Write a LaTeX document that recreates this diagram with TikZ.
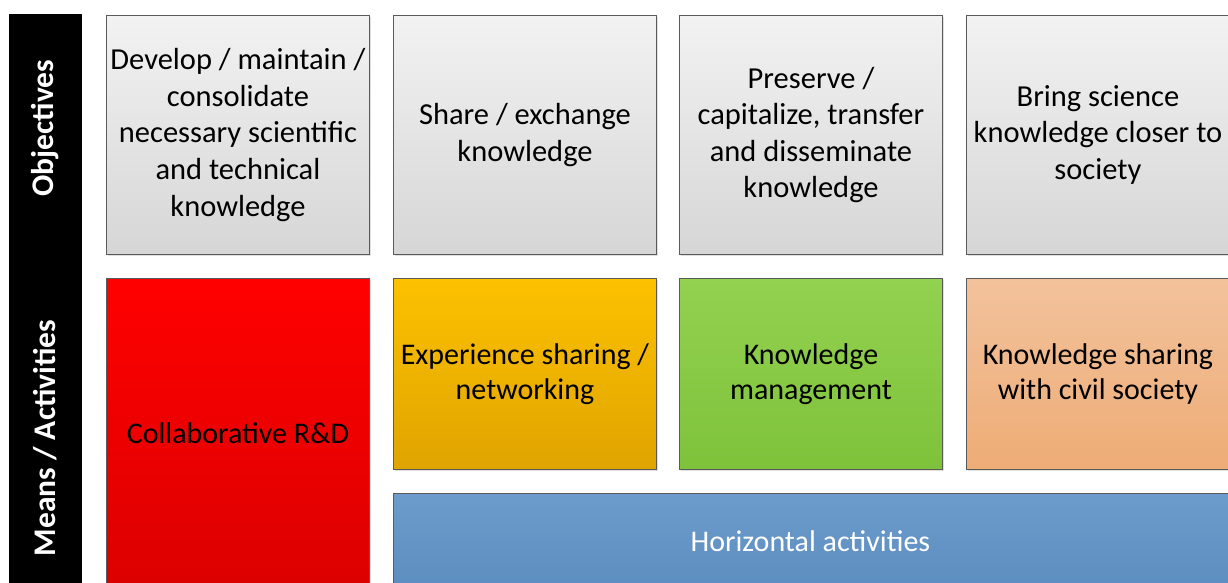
\documentclass[tikz,border=0pt]{standalone}
\usepackage{fontspec}
\setmainfont{Carlito}
\usetikzlibrary{shadows}
\definecolor{edge}{HTML}{5A5A5A}
\definecolor{grytop}{HTML}{F2F2F2}
\definecolor{grybot}{HTML}{D6D6D6}
\definecolor{redtop}{HTML}{FF0000}
\definecolor{redbot}{HTML}{DC0000}
\definecolor{orgtop}{HTML}{FDC100}
\definecolor{orgbot}{HTML}{DFA400}
\definecolor{grntop}{HTML}{93D150}
\definecolor{grnbot}{HTML}{7EC23A}
\definecolor{tantop}{HTML}{F2C29C}
\definecolor{tanbot}{HTML}{EEAC76}
\definecolor{blutop}{HTML}{6C9CCB}
\definecolor{blubot}{HTML}{5A8BBE}
\tikzstyle{bx}=[draw=edge, line width=0.9pt, inner sep=0pt, align=center, anchor=north west,
  font=\fontsize{30.5}{36.6}\selectfont,
  drop shadow={opacity=0.25, shadow xshift=1.5pt, shadow yshift=-1.5pt}]
\tikzstyle{obj}=[bx, minimum width=263, minimum height=239, top color=grytop, bottom color=grybot]
\tikzstyle{act}=[bx, minimum width=263, minimum height=191, font=\fontsize{30}{35.5}\selectfont]
\tikzstyle{lbl}=[rotate=90, text=white, font=\fontsize{31.5}{36}\selectfont\bfseries]

\begin{document}
\begin{tikzpicture} [x=1pt, y=-1pt]
%%position
\useasboundingbox (0,0) rectangle (1228,583);
%%side bar
\node[fill=black, inner sep=0pt, anchor=north west, minimum width=73, minimum height=600] (bar) at (9,14) {};
\node[lbl] (objl) at (45.5,128) {Objectives};
\node[lbl] (meanl) at (45.5,438) {Means / Activities};
%%objectives
\node[obj] (dev) at (106,15) {Develop / maintain /\\consolidate\\necessary scientific\\and technical\\knowledge};
\node[obj] (share) at (393,15) {Share / exchange\\knowledge};
\node[obj] (pres) at (679,15) {Preserve /\\capitalize, transfer\\and disseminate\\knowledge};
\node[obj] (bring) at (966,15) {Bring science\\knowledge closer to\\society};
%%activities
\node[act, minimum height=310, top color=redtop, bottom color=redbot] (rnd) at (106,278) {Collaborative R\&D};
\node[act, top color=orgtop, bottom color=orgbot] (exp) at (393,278) {Experience sharing /\\networking};
\node[act, top color=grntop, bottom color=grnbot] (km) at (679,278) {Knowledge\\management};
\node[act, top color=tantop, bottom color=tanbot] (civ) at (966,278) {Knowledge sharing\\with civil society};
%%horizontal
\node[act, minimum width=850, minimum height=110, top color=blutop, bottom color=blubot, text=white] (hor) at (393,493) {\raisebox{14pt}{Horizontal activities\hspace{16pt}}};
\end{tikzpicture}
\end{document}
